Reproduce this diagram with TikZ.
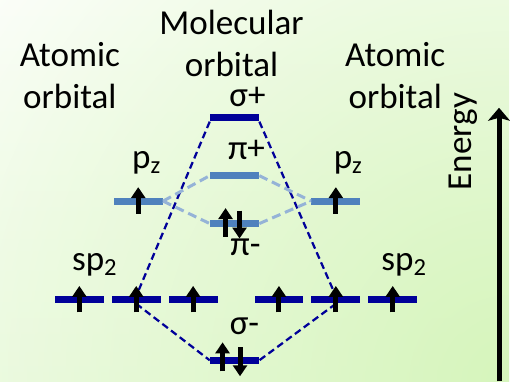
\documentclass[tikz,border=0pt]{standalone}
\usepackage{fontspec}
\setmainfont{Carlito}
\usetikzlibrary{arrows.meta,calc,fadings}
\definecolor{navy}{RGB}{0,0,153}
\definecolor{pzblue}{RGB}{79,129,189}
\definecolor{pzdash}{RGB}{149,179,215}
\definecolor{bgpale}{RGB}{243,252,236}
\definecolor{bggreen}{RGB}{214,245,188}
\tikzfading[name=glow, inner color=transparent!0, outer color=transparent!100]

\begin{document}
\begin{tikzpicture}[
    x=0.02cm, y=0.02cm,
    lbl/.style={font=\fontsize{20}{24}\selectfont, align=center, inner sep=0pt},
    bar/.style={rectangle, fill=navy, minimum width=0.98cm, minimum height=0.14cm, inner sep=0pt},
    pbar/.style={bar, fill=pzblue},
    spin/.style={line width=0.1cm, -{Triangle[length=0.22cm, width=0.28cm]}},
    sdash/.style={navy, line width=0.045cm, dash pattern=on 0.14cm off 0.08cm},
    pdash/.style={pzdash, line width=0.06cm, dash pattern=on 0.18cm off 0.1cm},
    >={Stealth[length=0.26cm, width=0.44cm, inset=0.06cm]}
  ]
  % background
  \shade[top color=white, bottom color=bgpale] (0,0) rectangle (510,382);
  \begin{scope}
    \clip (0,0) rectangle (510,382);
    \fill[bggreen, path fading=glow] (-190,-700) rectangle (1210,700);
  \end{scope}

  % headings
  \node[lbl] (aol) at (70,306) {Atomic\\orbital};
  \node[lbl, text depth=0pt, anchor=south] (mo) at (232,305) {Molecular\\orbital};
  \node[lbl] (aor) at (396,306) {Atomic\\orbital};

  % levels
  \node[bar] (sigp) at (235,264) {};
  \node[pbar] (pip) at (235,206) {};
  \node[pbar] (pim) at (235,158) {};
  \node[bar] (sigm) at (235,21) {};
  \node[pbar] (pzl) at (138.5,180.5) {};
  \node[pbar] (pzr) at (336.5,180.5) {};
  \node[bar] (s1) at (79.5,81.5) {};
  \node[bar] (s2) at (136.5,81.5) {};
  \node[bar] (s3) at (193.5,81.5) {};
  \node[bar] (s4) at (279.5,81.5) {};
  \node[bar] (s5) at (336.5,81.5) {};
  \node[bar] (s6) at (393.5,81.5) {};

  % level labels
  \node[lbl] (tsigp) at (248,285) {σ+};
  \node[lbl] (tpip) at (247,232) {π+};
  \node[lbl] (tpim) at (246,134) {π-};
  \node[lbl] (tsigm) at (245,55) {σ-};
  \node[lbl] (tpzl) at (147,219) {p\textsubscript{z}};
  \node[lbl] (tpzr) at (349,219) {p\textsubscript{z}};
  \node[lbl] (tspl) at (95,117) {sp\textsubscript{2}};
  \node[lbl] (tspr) at (405,117) {sp\textsubscript{2}};

  % correlation lines
  \draw[sdash] (sigp.south west) -- (s2.north);
  \draw[sdash] (sigp.south east) -- (s5.north);
  \draw[sdash] (s2.south) -- (sigm.west);
  \draw[sdash] (s5.south) -- (sigm.east);
  \draw[pdash] (pzl.east) -- (pip.west);
  \draw[pdash] (pzl.east) -- (pim.west);
  \draw[pdash] (pip.east) -- (pzr.west);
  \draw[pdash] (pim.east) -- (pzr.west);

  % electrons
  \foreach \b in {s1,s2,s3,s4,s5,s6,pzl,pzr}
    \draw[spin] ($(\b)+(0,-12.5)$) -- ($(\b)+(0,14)$);
  \draw[spin] ($(pim)+(-9,-13)$) -- ($(pim)+(-9,15.5)$);
  \draw[spin] ($(pim)+(5,13)$) -- ($(pim)+(5,-15)$);
  \draw[spin] ($(sigm)+(-12,-11)$) -- ($(sigm)+(-12,18)$);
  \draw[spin] ($(sigm)+(5.5,13)$) -- ($(sigm)+(5.5,-16)$);

  % energy axis
  \coordinate (ebot) at (500,0);
  \coordinate (etop) at (500,274);
  \draw[->, line width=0.1cm] (ebot) -- (etop);
  \node[lbl, rotate=90] (en) at (464,240) {Energy};
\end{tikzpicture}
\end{document}
